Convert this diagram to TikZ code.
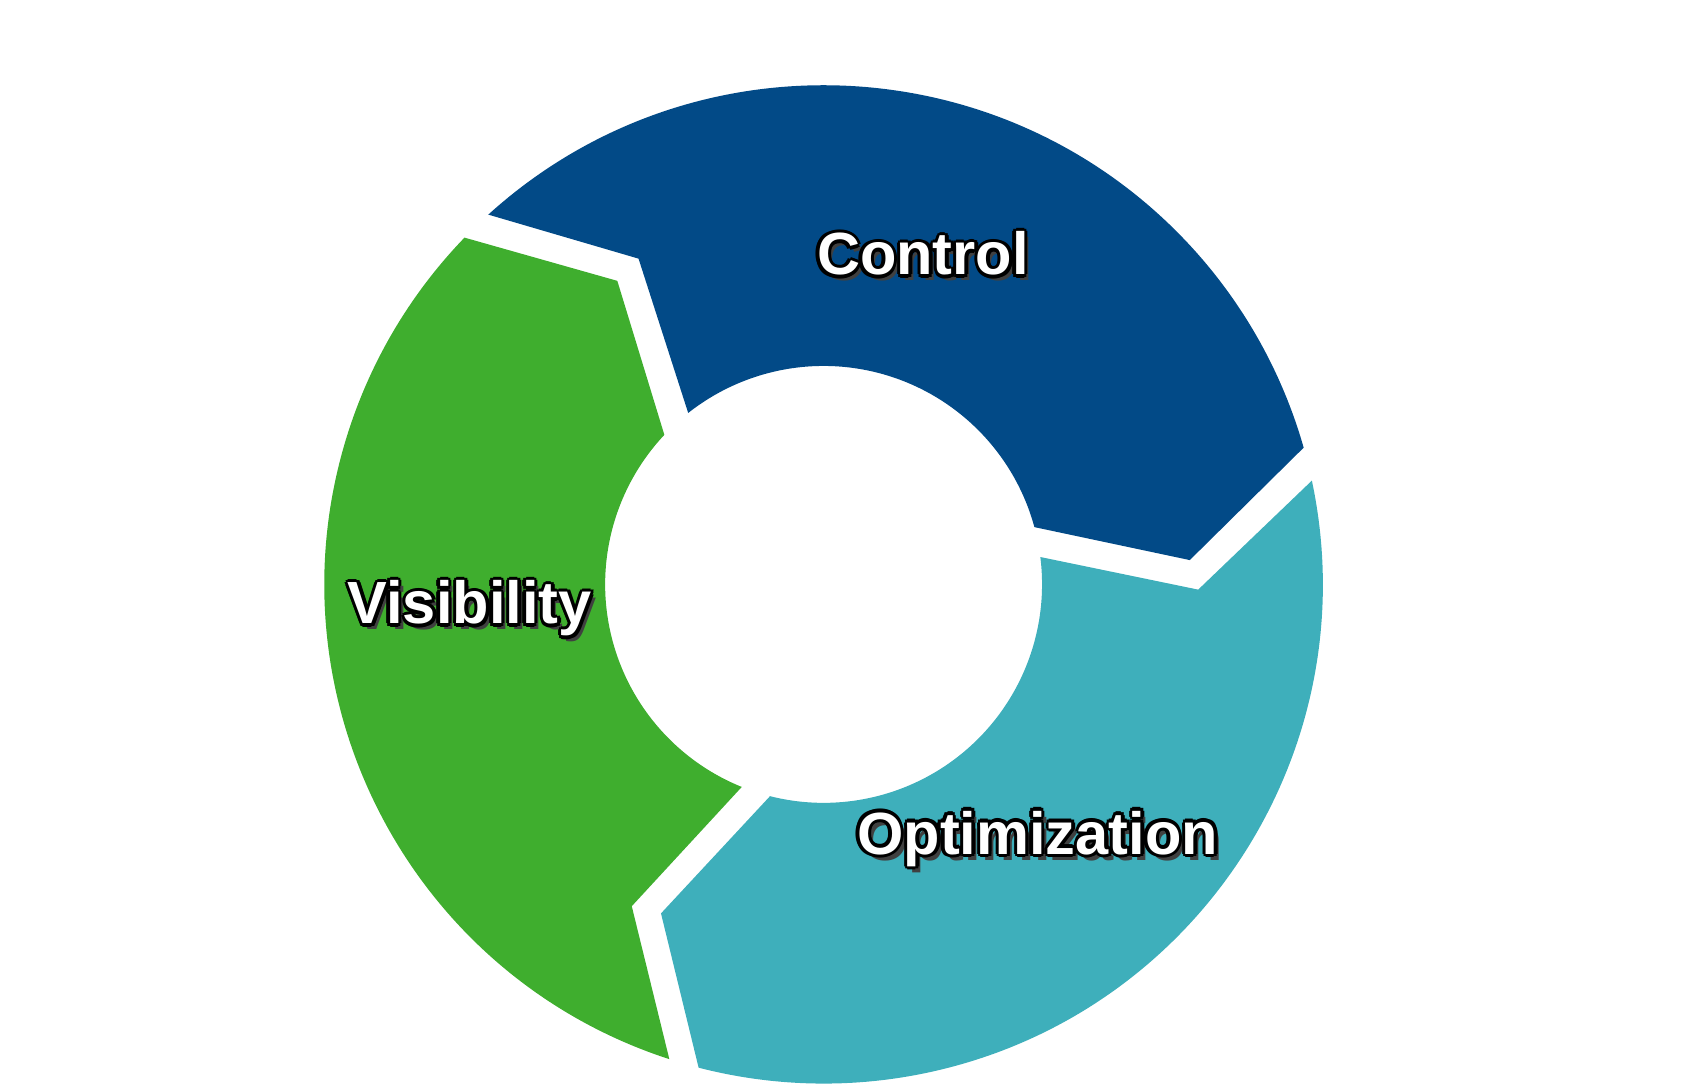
\documentclass[tikz,border=0pt]{standalone}
\usepackage{fontspec}
\setsansfont{Liberation Sans}
\usetikzlibrary{positioning}
\definecolor{ctrlblue}{HTML}{024A87}
\definecolor{optteal}{HTML}{3EAFBB}
\definecolor{visgreen}{HTML}{3FAE2E}
\tikzset{
  lbl/.style={font=\sffamily\bfseries\fontsize{15.5}{18}\selectfont},
}
% outlined label: shadow, black rim, white face
\newcommand{\rimlabel}[3]{%
  \node[lbl,black!75,xshift=1.2pt,yshift=-1.6pt] at (#1) {#3};
  \foreach \dx/\dy in {-0.9/0,0.9/0,0/-0.9,0/0.9,-0.65/-0.65,0.65/0.65,-0.65/0.65,0.65/-0.65}
    \node[lbl,black,xshift=\dx pt,yshift=\dy pt] at (#1) {#3};
  \node[lbl,white] (#2) at (#1) {#3};
}
\begin{document}
\begin{tikzpicture}[x=0.01cm,y=0.01cm]
\useasboundingbox (-754,-461) rectangle (806,535);
% segments: colour / outer start / outer end / tip / inner start / inner end / notch
\foreach \col/\oa/\ob/\tp/\ia/\ib/\nt in {
  ctrlblue/132.2/15.9/3.8/15.2/128.3/119.6,
  optteal/12/-104.5/-116.3/-104.2/7.2/-0.8,
  visgreen/-108/-224/-235.8/-223.2/-112/-120.8}
  \fill[\col] (\oa:457) arc[start angle=\oa,end angle=\ob,radius=457]
    -- (\tp:336) -- (\ia:200) arc[start angle=\ia,end angle=\ib,radius=200]
    -- (\nt:343) -- cycle;
\rimlabel{91,303}{control}{Control}
\rimlabel{196,-233}{optim}{Optimization}
\rimlabel{-324,-22}{visib}{Visibility}
\end{tikzpicture}
\end{document}
